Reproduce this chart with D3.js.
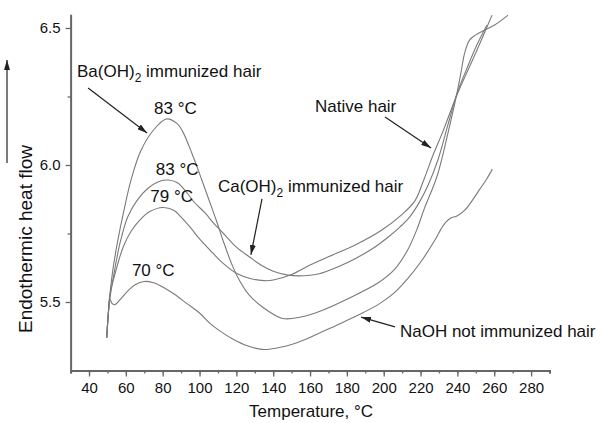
<!DOCTYPE html>
<html>
<head>
<meta charset="utf-8">
<script src="https://cdn.jsdelivr.net/npm/d3@7"></script>
<style>
  body { margin: 0; background: #fff; }
  svg { display: block; font-family: "Liberation Sans", Arial, sans-serif; }
</style>
</head>
<body>
<div id="chart"></div>
<script>
// DSC readings: temperature (°C) and endothermic heat flow, one pair of arrays per sample
const baTemp = [49.6, 50.4, 51.4, 53, 55.5, 58.5, 63, 68, 74.7, 82, 88, 91, 96, 101, 105, 109, 113, 118, 122, 127, 134.5, 145, 155, 165, 180, 197, 206, 213, 218, 222, 229, 235, 240, 242, 244, 246.5, 250, 254, 260, 267.5];
const baFlow = [5.37, 5.45, 5.53, 5.62, 5.72, 5.82, 5.95, 6.05, 6.125, 6.168, 6.15, 6.12, 6.04, 5.95, 5.875, 5.80, 5.72, 5.63, 5.575, 5.525, 5.48, 5.44, 5.445, 5.465, 5.51, 5.57, 5.62, 5.69, 5.765, 5.84, 5.96, 6.12, 6.27, 6.34, 6.41, 6.455, 6.475, 6.49, 6.51, 6.547];

const caTemp = [49.6, 50.4, 51.5, 54, 57, 61, 66, 72, 78, 83, 88, 93, 97, 103, 108, 113, 120, 127, 134, 140, 148, 157, 165, 175, 185, 194, 203, 209, 214, 219, 224, 229.5, 235, 240, 245, 250, 256];
const caFlow = [5.37, 5.45, 5.52, 5.62, 5.72, 5.81, 5.87, 5.915, 5.94, 5.945, 5.935, 5.90, 5.865, 5.825, 5.785, 5.75, 5.70, 5.665, 5.632, 5.612, 5.598, 5.596, 5.603, 5.628, 5.66, 5.695, 5.74, 5.775, 5.81, 5.86, 5.925, 6.02, 6.15, 6.265, 6.35, 6.43, 6.51];

const nativeTemp = [49.6, 50.4, 51.4, 54, 58.5, 63, 67.7, 73, 80, 86, 90, 94.8, 100, 107, 113, 120, 128, 135, 140, 150, 160, 170, 185, 199, 210, 217, 222, 227, 232, 240, 250, 258.8];
const nativeFlow = [5.37, 5.45, 5.53, 5.60, 5.70, 5.76, 5.80, 5.83, 5.845, 5.835, 5.81, 5.774, 5.73, 5.68, 5.64, 5.605, 5.585, 5.578, 5.58, 5.60, 5.635, 5.665, 5.71, 5.763, 5.82, 5.87, 5.95, 6.04, 6.12, 6.26, 6.41, 6.547];

const naohTemp = [49.6, 50.4, 51.3, 52.5, 54, 57, 61, 65, 70, 75, 80, 86, 93, 100, 106, 112, 118, 126, 134, 142, 150, 158, 166, 176, 187, 198, 206, 213, 220, 227.8, 231, 233.5, 236, 240, 244, 248, 252, 256, 259];
const naohFlow = [5.37, 5.45, 5.51, 5.495, 5.49, 5.51, 5.54, 5.563, 5.575, 5.57, 5.555, 5.53, 5.495, 5.46, 5.42, 5.39, 5.365, 5.34, 5.327, 5.332, 5.345, 5.365, 5.39, 5.42, 5.455, 5.495, 5.535, 5.585, 5.645, 5.726, 5.765, 5.79, 5.805, 5.815, 5.835, 5.87, 5.91, 5.95, 5.985];

// Peak temperatures written above each curve
const peakLabels = ["83 °C", "83 °C", "79 °C", "70 °C"];

// Tick values
const xTicks = d3.range(40, 281, 20);
const xMinor = d3.range(30, 291, 10);
const yTicks = [5.5, 6.0, 6.5];
const yMinor = [5.75, 6.25];

const width = 601;
const height = 423;

const x = d3.scaleLinear().domain([30, 290]).range([70.6, 549.5]);
const y = d3.scaleLinear().domain([5.25, 6.55]).range([370.5, 14.3]);

const svg = d3.select("#chart").append("svg")
    .attr("width", width)
    .attr("height", height);

// arrow head used by the annotation pointers
svg.append("defs").append("marker")
    .attr("id", "head")
    .attr("viewBox", "0 0 10 6")
    .attr("refX", 10).attr("refY", 3)
    .attr("markerWidth", 10).attr("markerHeight", 6)
    .attr("markerUnits", "userSpaceOnUse")
    .attr("orient", "auto")
    .append("path")
    .attr("d", "M0,0 L10,3 L0,6 Z")
    .attr("fill", "#222");

// Curves
const series = [
    {temp: baTemp, flow: baFlow, label: peakLabels[0]},
    {temp: caTemp, flow: caFlow, label: peakLabels[1]},
    {temp: nativeTemp, flow: nativeFlow, label: peakLabels[2]},
    {temp: naohTemp, flow: naohFlow, label: peakLabels[3]}
];

const line = d3.line()
    .x(d => x(d[0]))
    .y(d => y(d[1]))
    .curve(d3.curveCatmullRom.alpha(0.5));

svg.append("g")
    .attr("fill", "none")
    .attr("stroke", "#7a7a7a")
    .attr("stroke-width", 1.1)
    .selectAll("path")
    .data(series)
    .join("path")
    .attr("d", s => line(s.temp.map((t, i) => [t, s.flow[i]])));

// peak temperature labels, placed just above each maximum
svg.append("g")
    .attr("font-size", 17)
    .attr("fill", "#111")
    .attr("text-anchor", "middle")
    .selectAll("text")
    .data(series)
    .join("text")
    .attr("x", s => {
        const i = d3.maxIndex(s.flow.slice(0, 20));
        return x(s.temp[i]) + 9;
    })
    .attr("y", s => y(d3.max(s.flow.slice(0, 20))) - 5)
    .text(s => s.label);

// Axes
const axisColor = "#666";

function styleAxis(g) {
    g.select(".domain").attr("stroke", axisColor).attr("stroke-width", 2);
    g.selectAll(".tick line").attr("stroke", axisColor).attr("stroke-width", 1.3);
    g.selectAll(".tick text").attr("fill", "#111").attr("font-size", 15);
}

svg.append("g")
    .attr("transform", `translate(0,${y(5.25)})`)
    .call(d3.axisBottom(x).tickValues(xMinor).tickSize(3).tickFormat(""))
    .call(styleAxis);

svg.append("g")
    .attr("transform", `translate(0,${y(5.25)})`)
    .call(d3.axisBottom(x).tickValues(xTicks).tickSize(6).tickPadding(6).tickSizeOuter(0))
    .call(styleAxis)
    .call(g => g.select(".domain").remove());

svg.append("g")
    .attr("transform", `translate(${x(30)},0)`)
    .call(d3.axisLeft(y).tickValues(yMinor).tickSize(3).tickFormat("").tickSizeOuter(0))
    .call(styleAxis);

svg.append("g")
    .attr("transform", `translate(${x(30)},0)`)
    .call(d3.axisLeft(y).tickValues(yTicks).tickSize(5).tickPadding(5).tickFormat(d3.format(".1f")))
    .call(styleAxis)
    .call(g => g.select(".domain").remove());

// Axis titles
svg.append("text")
    .attr("x", (x(30) + x(290)) / 2 + 1)
    .attr("y", 417)
    .attr("text-anchor", "middle")
    .attr("font-size", 17)
    .attr("fill", "#111")
    .text("Temperature, °C");

svg.append("text")
    .attr("transform", `translate(32,${(143 + 335) / 2}) rotate(-90)`)
    .attr("text-anchor", "middle")
    .attr("font-size", 19)
    .attr("fill", "#111")
    .text("Endothermic heat flow");

svg.append("line")
    .attr("x1", 7).attr("y1", 163)
    .attr("x2", 7).attr("y2", 60)
    .attr("stroke", "#222")
    .attr("stroke-width", 1.2)
    .attr("marker-end", "url(#head)");

// Curve annotations (positions in data units)
const notes = [
    {name: "Ba(OH)", sub: "2", rest: " immunized hair", at: [33.5, 6.321], from: [39.5, 6.281], to: [71.5, 6.117]},
    {name: "Ca(OH)", sub: "2", rest: " immunized hair", at: [110, 5.901], from: [133.9, 5.876], to: [127.9, 5.672]},
    {name: "Native hair", sub: "", rest: "", at: [162.7, 6.193], from: [200.7, 6.175], to: [225.7, 6.062]},
    {name: "NaOH not immunized hair", sub: "", rest: "", at: [208.8, 5.372], from: [206.1, 5.409], to: [187.7, 5.445]}
];

const note = svg.append("g")
    .selectAll("g")
    .data(notes)
    .join("g");

note.append("line")
    .attr("x1", d => x(d.from[0])).attr("y1", d => y(d.from[1]))
    .attr("x2", d => x(d.to[0])).attr("y2", d => y(d.to[1]))
    .attr("stroke", "#222")
    .attr("stroke-width", 1.2)
    .attr("marker-end", "url(#head)");

const label = note.append("text")
    .attr("x", d => x(d.at[0]))
    .attr("y", d => y(d.at[1]))
    .attr("font-size", 17)
    .attr("fill", "#111");

label.append("tspan").text(d => d.name);
label.append("tspan")
    .attr("font-size", 12)
    .attr("dy", 5)
    .text(d => d.sub);
label.append("tspan")
    .attr("dy", d => d.sub ? -5 : 0)
    .text(d => d.rest);
</script>
</body>
</html>
